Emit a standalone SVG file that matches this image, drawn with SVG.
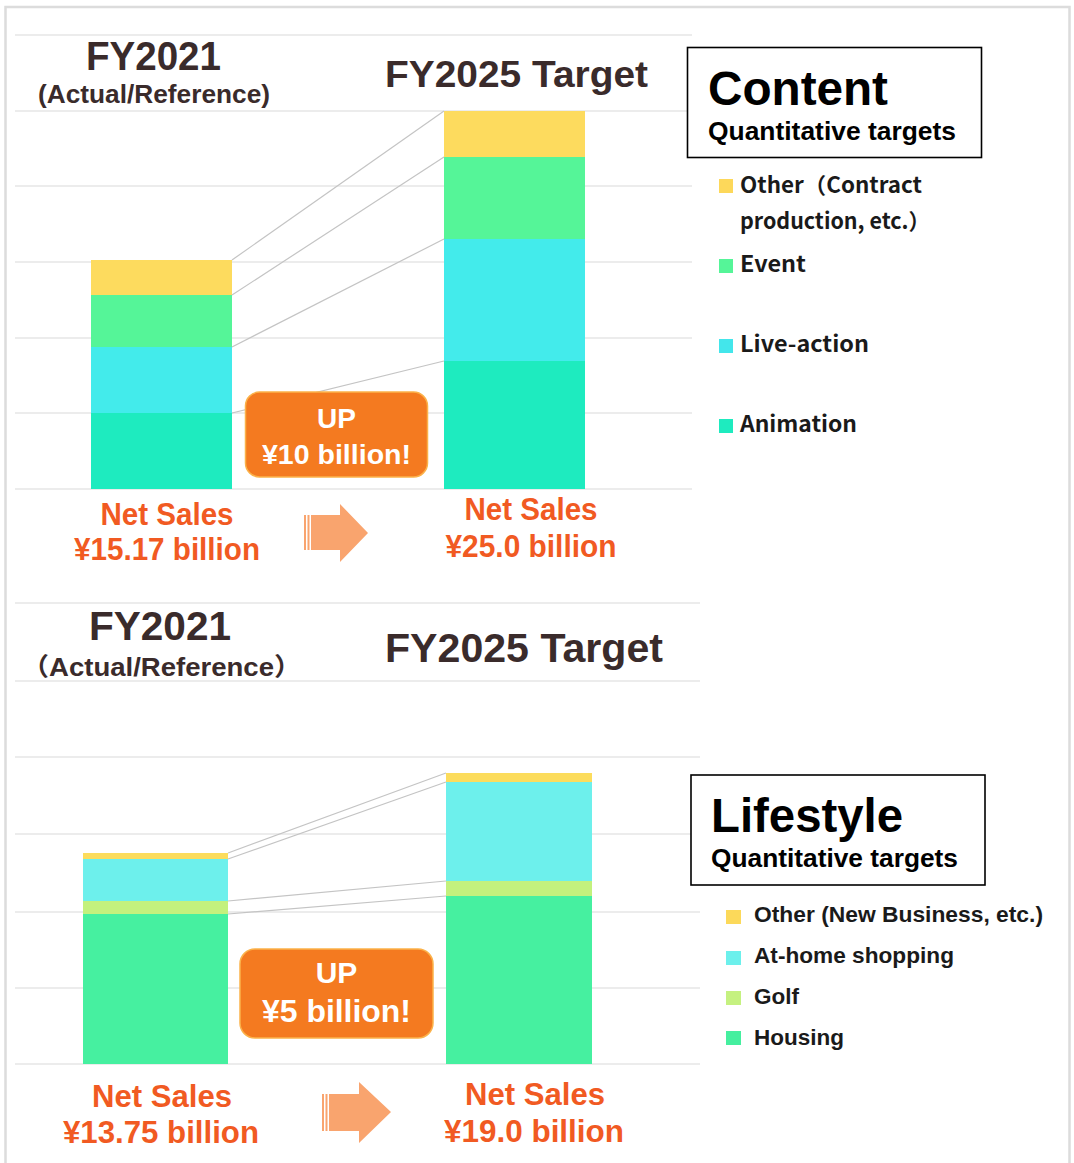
<svg xmlns="http://www.w3.org/2000/svg" width="1074" height="1163" viewBox="0 0 1074 1163">
<style>
.grid{stroke:#e6e6e6;stroke-width:1.5;fill:none}
.conn{stroke:#c4c4c4;stroke-width:1.2;fill:none}
.ttl{font-family:"Liberation Sans","Noto Sans CJK JP",sans-serif;font-weight:bold;fill:#3a2b2b;text-anchor:middle}
.ns{font-family:"Liberation Sans",sans-serif;font-weight:bold;fill:#f15a22;font-size:31px;text-anchor:middle}
.badge{fill:#f47a20;stroke:#fbb24a;stroke-width:1.5}
.bt{font-family:"Liberation Sans",sans-serif;font-weight:bold;fill:#ffffff;text-anchor:middle}
.arrow{fill:#f9a46e}
.box{fill:#fff;stroke:#000;stroke-width:1.6}
.bh{font-family:"Liberation Sans",sans-serif;font-weight:bold;fill:#000;font-size:48px}
.bs{font-family:"Liberation Sans",sans-serif;font-weight:bold;fill:#000;font-size:26px}
.lg1{font-family:"Noto Sans CJK JP","Liberation Sans",sans-serif;font-weight:bold;fill:#1a1a1a;font-size:22px}
.lg2{font-family:"Liberation Sans",sans-serif;font-weight:bold;fill:#1a1a1a;font-size:22px}
</style>
<rect x="0" y="0" width="1074" height="1163" fill="#ffffff"/>
<path d="M5.5 1163 V7 H1069.5 V1163" fill="none" stroke="#dcdcdc" stroke-width="2.5"/>

<g id="gridlines">
<line class="grid" x1="15" y1="35" x2="692" y2="35"/>
<line class="grid" x1="15" y1="111" x2="692" y2="111"/>
<line class="grid" x1="15" y1="186" x2="692" y2="186"/>
<line class="grid" x1="15" y1="262" x2="692" y2="262"/>
<line class="grid" x1="15" y1="338" x2="692" y2="338"/>
<line class="grid" x1="15" y1="413" x2="692" y2="413"/>
<line class="grid" x1="15" y1="489" x2="692" y2="489"/>
<line class="grid" x1="15" y1="603" x2="700" y2="603"/>
<line class="grid" x1="15" y1="681" x2="700" y2="681"/>
<line class="grid" x1="15" y1="757" x2="700" y2="757"/>
<line class="grid" x1="15" y1="834" x2="700" y2="834"/>
<line class="grid" x1="15" y1="912" x2="700" y2="912"/>
<line class="grid" x1="15" y1="988" x2="700" y2="988"/>
<line class="grid" x1="15" y1="1064" x2="700" y2="1064"/>
</g>

<g id="content-titles">
<text class="ttl" x="153.5" y="70" font-size="41" textLength="135" lengthAdjust="spacingAndGlyphs">FY2021</text>
<text class="ttl" x="154" y="103" font-size="25" textLength="232" lengthAdjust="spacingAndGlyphs">(Actual/Reference)</text>
<text class="ttl" x="516.5" y="87" font-size="37" textLength="263" lengthAdjust="spacingAndGlyphs">FY2025 Target</text>
</g>

<g id="content-bar-2021">
<rect x="91" y="260" width="141" height="35" fill="#fddb5e"/>
<rect x="91" y="295" width="141" height="52" fill="#55f598"/>
<rect x="91" y="347" width="141" height="66" fill="#43ebeb"/>
<rect x="91" y="413" width="141" height="76" fill="#1eebbf"/>
</g>

<g id="content-bar-2025">
<rect x="444" y="111" width="141" height="46" fill="#fddb5e"/>
<rect x="444" y="157" width="141" height="82" fill="#55f598"/>
<rect x="444" y="239" width="141" height="122" fill="#43ebeb"/>
<rect x="444" y="361" width="141" height="128" fill="#1eebbf"/>
</g>

<g id="connectors">
<line class="conn" x1="232" y1="260" x2="444" y2="111"/>
<line class="conn" x1="232" y1="295" x2="444" y2="157"/>
<line class="conn" x1="232" y1="347" x2="444" y2="239"/>
<line class="conn" x1="232" y1="413" x2="444" y2="361"/>
<line class="conn" x1="228" y1="853" x2="446" y2="773"/>
<line class="conn" x1="228" y1="859" x2="446" y2="782"/>
<line class="conn" x1="228" y1="901" x2="446" y2="881"/>
<line class="conn" x1="228" y1="914" x2="446" y2="896"/>
</g>

<g id="content-badge">
<rect class="badge" x="245.5" y="392" width="182" height="85" rx="14"/>
<text class="bt" x="336.5" y="428" font-size="28">UP</text>
<text class="bt" x="336.5" y="464" font-size="28" textLength="149" lengthAdjust="spacingAndGlyphs">¥10 billion!</text>
</g>

<g id="content-sales-2021">
<text class="ns" x="167" y="525" textLength="133" lengthAdjust="spacingAndGlyphs">Net Sales</text>
<text class="ns" x="167" y="560" textLength="186" lengthAdjust="spacingAndGlyphs">¥15.17 billion</text>
</g>

<g id="content-arrow">
<rect class="arrow" x="304" y="515" width="2" height="35"/>
<rect class="arrow" x="307.5" y="515" width="2" height="35"/>
<polygon class="arrow" points="311,515 340,515 340,504 368,533 340,562 340,550 311,550"/>
</g>

<g id="content-sales-2025">
<text class="ns" x="531" y="520" textLength="133" lengthAdjust="spacingAndGlyphs">Net Sales</text>
<text class="ns" x="531" y="557" textLength="171" lengthAdjust="spacingAndGlyphs">¥25.0 billion</text>
</g>

<g id="content-box">
<rect class="box" x="687.5" y="47.5" width="294" height="110"/>
<text class="bh" x="708" y="105" textLength="180" lengthAdjust="spacingAndGlyphs">Content</text>
<text class="bs" x="708" y="140" textLength="248" lengthAdjust="spacingAndGlyphs">Quantitative targets</text>
</g>

<g id="content-legend">
<rect x="719" y="179" width="14" height="14" fill="#fdd85a"/>
<text class="lg1" x="740" y="193" textLength="182" lengthAdjust="spacingAndGlyphs">Other（Contract</text>
<text class="lg1" x="740" y="229" textLength="190" lengthAdjust="spacingAndGlyphs">production, etc.）</text>
<rect x="719" y="259" width="14" height="14" fill="#55f598"/>
<text class="lg1" x="740" y="272" textLength="66" lengthAdjust="spacingAndGlyphs">Event</text>
<rect x="719" y="339" width="14" height="14" fill="#43e6eb"/>
<text class="lg1" x="740" y="352" textLength="129" lengthAdjust="spacingAndGlyphs">Live-action</text>
<rect x="719" y="419" width="14" height="14" fill="#1eebbf"/>
<text class="lg1" x="740" y="432" textLength="117" lengthAdjust="spacingAndGlyphs">Animation</text>
</g>

<g id="lifestyle-titles">
<text class="ttl" x="160" y="640" font-size="40" textLength="142" lengthAdjust="spacingAndGlyphs">FY2021</text>
<text class="ttl" x="161.5" y="676" font-size="25" textLength="280" lengthAdjust="spacingAndGlyphs">（Actual/Reference）</text>
<text class="ttl" x="524" y="662" font-size="40" textLength="278" lengthAdjust="spacingAndGlyphs">FY2025 Target</text>
</g>

<g id="lifestyle-bar-2021">
<rect x="83" y="853" width="145" height="6" fill="#fcdc5c"/>
<rect x="83" y="859" width="145" height="42" fill="#6df0ec"/>
<rect x="83" y="901" width="145" height="13" fill="#c3f17d"/>
<rect x="83" y="914" width="145" height="150" fill="#46f0a0"/>
</g>

<g id="lifestyle-bar-2025">
<rect x="446" y="773" width="146" height="9" fill="#fcdc5c"/>
<rect x="446" y="782" width="146" height="99" fill="#6df0ec"/>
<rect x="446" y="881" width="146" height="15" fill="#c3f17d"/>
<rect x="446" y="896" width="146" height="168" fill="#46f0a0"/>
</g>

<g id="lifestyle-badge">
<rect class="badge" x="240" y="949" width="193" height="89" rx="15"/>
<text class="bt" x="336.5" y="983" font-size="30">UP</text>
<text class="bt" x="336.5" y="1022" font-size="31" textLength="149" lengthAdjust="spacingAndGlyphs">¥5 billion!</text>
</g>

<g id="lifestyle-sales-2021">
<text class="ns" x="162" y="1107" textLength="140" lengthAdjust="spacingAndGlyphs">Net Sales</text>
<text class="ns" x="161" y="1143" textLength="196" lengthAdjust="spacingAndGlyphs">¥13.75 billion</text>
</g>

<g id="lifestyle-arrow">
<rect class="arrow" x="322" y="1094" width="2" height="37"/>
<rect class="arrow" x="325.5" y="1094" width="2" height="37"/>
<polygon class="arrow" points="329,1094 359,1094 359,1082 391,1112 359,1143 359,1131 329,1131"/>
</g>

<g id="lifestyle-sales-2025">
<text class="ns" x="535" y="1105" textLength="140" lengthAdjust="spacingAndGlyphs">Net Sales</text>
<text class="ns" x="534" y="1142" textLength="180" lengthAdjust="spacingAndGlyphs">¥19.0 billion</text>
</g>

<g id="lifestyle-box">
<rect class="box" x="691" y="775" width="294" height="110"/>
<text class="bh" x="711" y="832" textLength="192" lengthAdjust="spacingAndGlyphs">Lifestyle</text>
<text class="bs" x="711" y="867" textLength="247" lengthAdjust="spacingAndGlyphs">Quantitative targets</text>
</g>

<g id="lifestyle-legend">
<rect x="726" y="910" width="15" height="14" fill="#fcd95a"/>
<text class="lg2" x="754" y="922" textLength="289" lengthAdjust="spacingAndGlyphs">Other (New Business, etc.)</text>
<rect x="726" y="951" width="15" height="14" fill="#6cf0ec"/>
<text class="lg2" x="754" y="963" textLength="200" lengthAdjust="spacingAndGlyphs">At-home shopping</text>
<rect x="726" y="991" width="15" height="14" fill="#c5f180"/>
<text class="lg2" x="754" y="1004" textLength="45" lengthAdjust="spacingAndGlyphs">Golf</text>
<rect x="726" y="1031" width="15" height="14" fill="#45ef9f"/>
<text class="lg2" x="754" y="1045" textLength="90" lengthAdjust="spacingAndGlyphs">Housing</text>
</g>
</svg>
